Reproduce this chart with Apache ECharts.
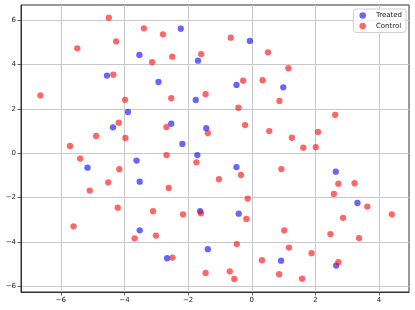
<!DOCTYPE html>
<html><head><meta charset="utf-8">
<script src="https://cdn.jsdelivr.net/npm/echarts@6/dist/echarts.min.js"></script>
<style>html,body{margin:0;padding:0;background:#fff}#c{width:415px;height:310px}</style>
</head><body><div id="c"></div>
<script>
const xTicks = [-6, -4, -2, 0, 2, 4];
const yTicks = [-6, -4, -2, 0, 2, 4, 6];
const seriesNames = ['Treated', 'Control'];

const treatedX = [-3.53, -4.55, -3.89, -4.36, -3.62, -2.23, -0.06, -1.69, -2.93, -0.48, -1.76, -2.53, -1.43, -2.18, -1.71, 0.99, -5.16, -3.52, -3.52, -0.48, -1.62, -0.41, -1.38, -2.66, 2.64, 3.32, 0.92, 2.65];
const treatedY = [4.43, 3.50, 1.86, 1.17, -0.33, 5.61, 5.06, 4.17, 3.21, 3.08, 2.40, 1.33, 1.13, 0.42, -0.08, 2.97, -0.65, -1.28, -3.47, -0.62, -2.61, -2.72, -4.32, -4.73, -0.83, -2.24, -4.84, -5.06];

const controlX = [-4.49, -4.26, -5.48, -4.35, -6.64, -3.98, -4.18, -4.89, -3.97, -5.71, -5.39,
  -3.39, -2.79, -0.66, 0.51, -3.13, -2.50, -1.59, -0.27, 0.34, -2.53, -1.45, -0.42, -2.68, -1.38, -0.21, 0.55, -2.68,
  1.15, 0.87, 2.62, 1.26, 2.08, 1.62, 2.01,
  -4.16, -4.51, -5.09, -4.21, -5.60, -3.68,
  -1.74, -0.34, -1.03, -2.61, -0.13, -3.10, -2.16, -1.60, -0.17, -3.01, -0.47, -2.49, 0.32, -1.45, -0.69, -0.55,
  0.93, 2.72, 3.23, 2.58, 3.63, 4.40, 2.87, 1.02, 2.47, 3.37, 1.17, 1.88, 2.72, 0.86, 1.58];
const controlY = [6.11, 5.04, 4.73, 3.54, 2.61, 2.41, 1.38, 0.78, 0.69, 0.33, -0.24,
  5.63, 5.36, 5.21, 4.55, 4.11, 4.35, 4.47, 3.27, 3.29, 2.48, 2.66, 2.05, 1.18, 0.91, 1.27, 1.00, -0.08,
  3.83, 2.36, 1.73, 0.70, 0.96, 0.25, 0.28,
  -0.72, -1.31, -1.68, -2.45, -3.29, -3.83,
  -0.41, -0.98, -1.17, -1.56, -2.04, -2.61, -2.75, -2.70, -2.96, -3.71, -4.09, -4.70, -4.82, -5.39, -5.32, -5.66,
  -0.71, -1.37, -1.35, -1.83, -2.40, -2.75, -2.91, -3.47, -3.64, -3.82, -4.25, -4.50, -4.91, -5.45, -5.65];

const zip = (xs, ys) => xs.map((x, i) => [x, ys[i]]);
const fmt = v => String(v).replace('-', '\u2212');
const font = 'DejaVu Sans';

function axis(min, max, ticks) {
  return {
    type: 'value', min: min, max: max,
    axisLine: { show: true, onZero: false, lineStyle: { color: '#333', width: 1 } },
    axisTick: { show: true, length: 3.5, customValues: ticks, lineStyle: { color: '#333', width: 0.8 } },
    axisLabel: { customValues: ticks, formatter: fmt, fontSize: 7, color: '#222', fontFamily: font, margin: 5 },
    splitLine: { show: true, lineStyle: { color: '#c8c8c8', width: 1 } }
  };
}

const chart = echarts.init(document.getElementById('c'), null, { renderer: 'canvas' });
chart.setOption({
  animation: false,
  backgroundColor: '#fff',
  grid: { left: 21, right: 6, top: 5, bottom: 18, containLabel: false,
          show: true, borderColor: '#333', borderWidth: 1 },
  xAxis: axis(-7.25, 4.94, xTicks),
  yAxis: axis(-6.25, 6.68, yTicks),
  legend: {
    data: seriesNames, orient: 'vertical', right: 9, top: 9,
    icon: 'circle', itemWidth: 6.5, itemHeight: 6.5, itemGap: 1.5,
    padding: [2, 4, 2, 6],
    backgroundColor: 'rgba(255,255,255,0.8)', borderColor: '#d0d0d0', borderWidth: 1, borderRadius: 3,
    textStyle: { fontSize: 7, fontFamily: font, color: '#222', lineHeight: 9, padding: [0, 0, 0, 5] }
  },
  series: [
    { name: seriesNames[0], type: 'scatter', data: zip(treatedX, treatedY), symbolSize: 6.3,
      itemStyle: { color: '#0000ff', opacity: 0.6 } },
    { name: seriesNames[1], type: 'scatter', data: zip(controlX, controlY), symbolSize: 6.3,
      itemStyle: { color: '#ff0000', opacity: 0.6 } }
  ]
});
</script></body></html>
